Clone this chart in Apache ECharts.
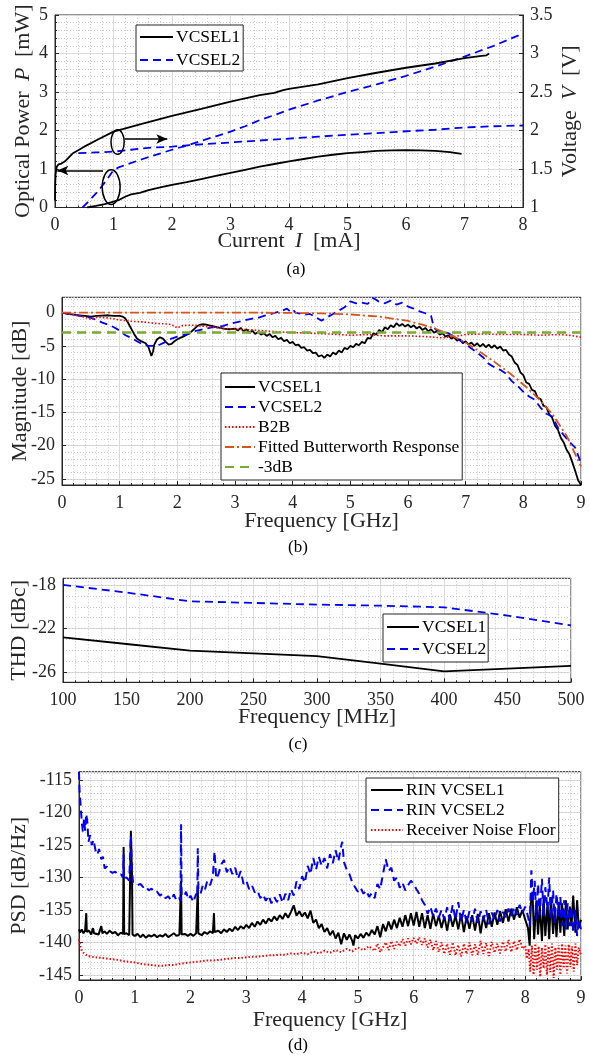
<!DOCTYPE html>
<html><head><meta charset="utf-8">
<script src="https://cdn.jsdelivr.net/npm/echarts@6/dist/echarts.min.js"></script>
<style>html,body{margin:0;padding:0;background:#fff}#c{width:589px;height:1059px}</style>
</head><body><div id="c"></div>
<script>
// ---------- Panel (a): L-I-V ----------
const vcsel1Power = [[0.55,0],[0.7,0.04],[0.85,0.09],[1.0,0.15],[1.1,0.2],[1.2,0.28],[1.3,0.34],[1.45,0.38],[1.6,0.45],[1.8,0.52],[2.0,0.59],[2.25,0.66],[2.5,0.74],[2.75,0.82],[3.0,0.9],[3.25,0.98],[3.5,1.06],[3.75,1.13],[4.0,1.2],[4.25,1.26],[4.5,1.32],[4.75,1.37],[5.0,1.41],[5.25,1.44],[5.5,1.47],[5.75,1.485],[6.0,1.49],[6.25,1.485],[6.5,1.47],[6.75,1.44],[6.95,1.39]];
const vcsel2Power = [[0.47,0],[0.6,0.2],[0.75,0.45],[0.9,0.75],[1.0,0.97],[1.1,1.05],[1.25,1.13],[1.5,1.26],[1.75,1.38],[2.0,1.5],[2.25,1.61],[2.5,1.73],[2.75,1.85],[3.0,1.97],[3.25,2.11],[3.5,2.27],[3.75,2.4],[4.0,2.54],[4.5,2.78],[5.0,3.0],[5.5,3.2],[6.0,3.42],[6.5,3.66],[7.0,3.92],[7.5,4.2],[8.0,4.52]];
const vcsel1Voltage = [[0,1.09],[0.003,1.28],[0.01,1.43],[0.03,1.53],[0.06,1.56],[0.11,1.57],[0.17,1.6],[0.3,1.7],[0.5,1.79],[0.75,1.89],[1.0,1.985],[1.5,2.09],[2.0,2.19],[2.5,2.28],[3.0,2.375],[3.5,2.46],[3.75,2.49],[3.9,2.525],[4.0,2.54],[4.5,2.6],[5.0,2.68],[5.5,2.75],[6.0,2.815],[6.5,2.87],[7.0,2.94],[7.26,2.965],[7.37,2.975],[7.42,3.0]];
const vcsel2Voltage = [[0.4,1.705],[0.7,1.715],[1.0,1.725],[1.3,1.75],[1.6,1.775],[2.0,1.79],[2.3,1.81],[2.5,1.82],[3.0,1.845],[3.5,1.87],[4.0,1.895],[4.5,1.92],[5.0,1.945],[5.5,1.965],[6.0,1.99],[6.5,2.01],[7.0,2.04],[7.5,2.055],[8.0,2.065]];
// annotation ellipses: [centre I, centre P, half-width (mA), half-height (mW)]
const annoEllipses = [[1.07,1.70,0.113,0.32],[0.96,0.53,0.153,0.45]];
const annoArrows = [[[1.19,1.78],[1.92,1.78]],[[0.82,0.96],[0.04,0.96]]];

// ---------- Panel (b): small-signal response ----------
const magV1 = [[0,0],[0.1,-0.2],[0.2,-0.3],[0.3,-0.4],[0.4,-0.5],[0.5,-0.6],[0.6,-0.5],[0.7,-0.45],[0.8,-0.4],[0.9,-0.5],[1.0,-0.5],[1.05,-0.6],[1.1,-0.9],[1.15,-1.6],[1.2,-2.4],[1.25,-3.2],[1.3,-3.9],[1.35,-4.2],[1.4,-4.4],[1.45,-4.6],[1.5,-5.2],[1.53,-6.0],[1.55,-6.5],[1.58,-5.8],[1.6,-4.8],[1.65,-4.0],[1.7,-3.7],[1.75,-3.9],[1.8,-4.4],[1.85,-4.8],[1.9,-4.7],[1.95,-4.3],[2.0,-4.0],[2.05,-3.8],[2.1,-3.6],[2.15,-3.4],[2.2,-3.1],[2.25,-2.8],[2.3,-2.4],[2.35,-2.0],[2.4,-1.8],[2.45,-1.75],[2.5,-1.8],[2.55,-1.9],[2.6,-2.0],[2.7,-2.2],[2.8,-2.4],[2.9,-2.5],[3.0,-2.4],[3.05,-2.7],[3.1,-2.3],[3.15,-2.8],[3.2,-2.5],[3.25,-3.0],[3.3,-2.7],[3.35,-3.2],[3.4,-2.9],[3.45,-3.3],[3.5,-3.1],[3.55,-3.5],[3.6,-3.2],[3.65,-3.7],[3.7,-3.5],[3.75,-4.0],[3.8,-3.8],[3.85,-4.3],[3.9,-4.1],[3.95,-4.6],[4.0,-4.4],[4.05,-4.9],[4.1,-4.8],[4.15,-5.3],[4.2,-5.2],[4.25,-5.7],[4.3,-5.6],[4.35,-6.1],[4.4,-6.0],[4.45,-6.6],[4.5,-6.4],[4.55,-6.8],[4.6,-6.3],[4.65,-6.6],[4.7,-6.0],[4.75,-6.3],[4.8,-5.7],[4.85,-6.0],[4.9,-5.3],[4.95,-5.5],[5.0,-5.0],[5.05,-5.2],[5.1,-4.7],[5.15,-4.9],[5.2,-4.4],[5.25,-4.6],[5.3,-3.8],[5.35,-3.9],[5.4,-3.1],[5.45,-3.3],[5.5,-2.6],[5.55,-2.9],[5.6,-2.2],[5.65,-2.5],[5.7,-1.9],[5.75,-2.2],[5.8,-1.6],[5.85,-2.0],[5.9,-1.7],[5.95,-2.1],[6.0,-1.8],[6.05,-2.2],[6.1,-1.9],[6.15,-2.4],[6.2,-2.1],[6.25,-2.6],[6.3,-2.3],[6.35,-2.8],[6.4,-2.5],[6.45,-3.0],[6.5,-2.8],[6.55,-3.3],[6.6,-3.1],[6.65,-3.6],[6.7,-3.4],[6.75,-3.9],[6.8,-3.7],[6.85,-4.2],[6.9,-4.0],[6.95,-4.6],[7.0,-4.3],[7.05,-4.8],[7.1,-4.5],[7.15,-5.0],[7.2,-4.6],[7.25,-5.1],[7.3,-4.7],[7.35,-5.2],[7.4,-4.8],[7.45,-5.3],[7.5,-4.9],[7.55,-5.4],[7.6,-5.1],[7.65,-5.7],[7.7,-5.6],[7.75,-6.3],[7.8,-6.6],[7.85,-7.5],[7.9,-7.9],[7.95,-9.0],[8.0,-9.4],[8.05,-10.5],[8.1,-10.7],[8.15,-11.6],[8.2,-11.8],[8.25,-12.8],[8.3,-13.0],[8.35,-14.0],[8.4,-14.2],[8.45,-15.3],[8.5,-15.8],[8.55,-17.0],[8.6,-17.6],[8.65,-18.8],[8.7,-19.5],[8.75,-20.6],[8.8,-21.3],[8.85,-22.5],[8.9,-23.8],[8.95,-25.2],[8.98,-25.6],[9.0,-25.9]];
const magV2 = [[0,0],[0.1,-0.2],[0.2,-0.3],[0.3,-0.5],[0.4,-0.6],[0.5,-0.8],[0.6,-1.1],[0.7,-1.5],[0.8,-1.8],[0.9,-2.2],[1.0,-2.7],[1.1,-3.4],[1.2,-3.8],[1.3,-4.3],[1.4,-4.8],[1.5,-5.0],[1.6,-5.0],[1.7,-4.8],[1.8,-4.4],[1.9,-3.9],[2.0,-3.6],[2.1,-3.4],[2.2,-3.2],[2.3,-2.8],[2.4,-2.6],[2.5,-2.4],[2.6,-2.2],[2.7,-2.1],[2.8,-2.0],[2.9,-1.7],[3.0,-1.5],[3.1,-1.3],[3.2,-1.1],[3.3,-0.9],[3.4,-0.8],[3.5,-0.5],[3.6,-0.3],[3.7,0.0],[3.8,0.2],[3.9,0.6],[3.95,0.2],[4.0,0.5],[4.05,0.0],[4.1,-0.1],[4.2,-0.3],[4.3,-0.2],[4.4,-0.7],[4.5,-1.2],[4.6,-0.7],[4.7,-0.2],[4.8,0.3],[4.9,0.8],[5.0,1.7],[5.1,1.4],[5.2,1.5],[5.3,1.3],[5.4,2.2],[5.5,1.6],[5.6,1.4],[5.7,1.8],[5.8,1.2],[5.9,1.5],[6.0,0.9],[6.1,0.6],[6.2,0.2],[6.3,-0.1],[6.4,-0.5],[6.45,-2.2],[6.5,-2.7],[6.6,-2.9],[6.7,-3.1],[6.8,-3.6],[6.9,-4.2],[7.0,-4.7],[7.1,-5.4],[7.2,-6.0],[7.3,-6.7],[7.4,-7.7],[7.5,-8.2],[7.6,-8.6],[7.7,-9.2],[7.8,-10.3],[7.9,-11.0],[8.0,-11.9],[8.1,-12.6],[8.2,-13.1],[8.3,-14.3],[8.4,-15.2],[8.5,-15.6],[8.6,-17.3],[8.7,-18.4],[8.8,-19.4],[8.9,-20.3],[9.0,-22.6]];
const magB2B = [[0,0],[0.2,-0.3],[0.4,-0.7],[0.5,-1.0],[0.6,-0.7],[0.8,-0.8],[1.0,-1.1],[1.2,-1.3],[1.4,-1.4],[1.6,-1.6],[1.8,-1.7],[1.9,-1.8],[2.0,-2.3],[2.1,-1.9],[2.3,-1.9],[2.5,-2.1],[2.7,-2.3],[3.0,-2.5],[3.3,-2.6],[3.6,-2.8],[4.0,-3.0],[4.3,-3.1],[4.6,-3.2],[5.0,-3.4],[5.3,-3.3],[5.6,-3.5],[6.0,-3.5],[6.3,-3.6],[6.6,-3.8],[6.8,-3.6],[7.0,-3.3],[7.3,-3.2],[7.6,-3.3],[8.0,-3.3],[8.3,-3.4],[8.6,-3.3],[8.8,-3.4],[9.0,-3.7]];
const magFit = [[0,0],[0.5,0],[1,0],[1.5,0],[2,0],[2.5,0],[3,0],[3.5,-0.02],[4,-0.05],[4.5,-0.12],[5,-0.28],[5.5,-0.6],[6,-1.25],[6.25,-1.8],[6.5,-2.5],[6.75,-3.4],[7,-4.5],[7.25,-5.9],[7.5,-7.4],[7.75,-9.0],[8,-10.8],[8.25,-12.8],[8.5,-15.2],[8.75,-18.5],[9,-23.1]];
const mag3dB = [[0,-3],[9,-3]];

// ---------- Panel (c): THD ----------
const freqC = [100,150,200,250,300,350,400,450,500];
const thdV1 = [-22.8,-23.4,-24.0,-24.25,-24.5,-25.2,-25.9,-25.65,-25.4];
const thdV2 = [-18.0,-18.7,-19.5,-19.65,-19.8,-19.9,-20.05,-20.8,-21.7];

// ---------- Panel (d): RIN ----------
const rinV1 = [[0,-138],[0.02,-138.5],[0.05,-138],[0.08,-138.6],[0.11,-138.2],[0.13,-135.5],[0.14,-138.4],[0.18,-138.2],[0.22,-138.8],[0.25,-137.8],[0.27,-138.6],[0.3,-138.3],[0.35,-138.8],[0.4,-137.5],[0.42,-138.6],[0.46,-138.3],[0.5,-138.7],[0.55,-138.2],[0.6,-138.6],[0.65,-138.4],[0.7,-138.9],[0.75,-138.5],[0.79,-138.7],[0.8,-125.3],[0.81,-138.7],[0.85,-138.6],[0.9,-138.9],[0.93,-122.8],[0.95,-129.5],[0.96,-138.8],[1.0,-139.0],[1.05,-138.7],[1.1,-139.2],[1.15,-138.8],[1.2,-139.3],[1.25,-138.9],[1.3,-139.1],[1.35,-138.8],[1.4,-139.2],[1.45,-138.9],[1.5,-139.1],[1.55,-138.7],[1.6,-139.2],[1.65,-138.9],[1.7,-138.6],[1.75,-139.0],[1.8,-138.8],[1.82,-138.9],[1.83,-130.5],[1.84,-138.8],[1.9,-138.7],[1.95,-139.0],[2.0,-138.7],[2.05,-139.0],[2.1,-138.6],[2.12,-138.8],[2.13,-131.5],[2.14,-138.6],[2.2,-138.9],[2.25,-138.4],[2.3,-138.7],[2.35,-138.3],[2.4,-138.6],[2.42,-135.5],[2.43,-138.4],[2.5,-138.2],[2.55,-138.6],[2.6,-138.0],[2.65,-138.4],[2.7,-137.9],[2.75,-138.3],[2.8,-137.6],[2.85,-138.1],[2.9,-137.5],[2.95,-137.9],[3.0,-137.3],[3.05,-137.8],[3.1,-137.0],[3.15,-137.6],[3.2,-136.8],[3.25,-137.3],[3.3,-136.5],[3.35,-137.1],[3.4,-136.3],[3.45,-136.8],[3.5,-136.0],[3.55,-136.6],[3.6,-135.8],[3.65,-136.4],[3.7,-135.5],[3.75,-136.2],[3.8,-135.3],[3.85,-134.3],[3.9,-135.9],[3.95,-135.2],[4.0,-136.0],[4.05,-135.4],[4.1,-136.3],[4.15,-135.1],[4.2,-137.0],[4.25,-136.5],[4.3,-137.8],[4.35,-137.2],[4.4,-138.4],[4.45,-137.8],[4.5,-138.9],[4.55,-138.2],[4.6,-139.4],[4.65,-138.5],[4.7,-140.3],[4.75,-138.6],[4.8,-139.6],[4.85,-138.8],[4.9,-139.8],[4.92,-140.5],[4.95,-138.9],[5.0,-139.4],[5.05,-138.7],[5.1,-139.3],[5.15,-138.5],[5.2,-139.0],[5.25,-138.1],[5.3,-138.8],[5.35,-137.5],[5.4,-139.2],[5.45,-137.2],[5.5,-138.3],[5.55,-136.8],[5.6,-138.0],[5.65,-136.5],[5.7,-137.8],[5.75,-136.2],[5.8,-137.6],[5.85,-135.8],[5.9,-137.5],[5.95,-135.5],[6.0,-137.4],[6.05,-135.3],[6.1,-137.6],[6.15,-135.5],[6.2,-137.8],[6.25,-135.8],[6.3,-137.9],[6.35,-135.6],[6.4,-137.5],[6.45,-135.9],[6.5,-137.8],[6.55,-136.0],[6.6,-138.2],[6.65,-135.7],[6.7,-137.6],[6.75,-135.9],[6.8,-138.0],[6.85,-135.6],[6.9,-138.4],[6.95,-136.0],[7.0,-137.9],[7.05,-135.8],[7.1,-138.2],[7.15,-135.6],[7.2,-138.6],[7.25,-135.9],[7.3,-137.8],[7.35,-135.5],[7.4,-137.6],[7.45,-135.4],[7.5,-137.3],[7.55,-135.2],[7.6,-137.0],[7.65,-134.9],[7.7,-136.8],[7.75,-134.8],[7.8,-136.5],[7.85,-134.6],[7.9,-136.2],[7.95,-135.0],[8.0,-136.5],[8.05,-137.8],[8.08,-140.5],[8.1,-134.0],[8.13,-132.2],[8.16,-139.5],[8.2,-133.5],[8.23,-138.8],[8.26,-134.2],[8.3,-139.8],[8.33,-133.2],[8.36,-139.0],[8.4,-134.0],[8.43,-139.5],[8.46,-133.0],[8.5,-138.7],[8.53,-134.5],[8.56,-139.2],[8.6,-133.8],[8.63,-138.5],[8.66,-134.0],[8.7,-139.0],[8.73,-133.5],[8.76,-138.0],[8.8,-134.5],[8.83,-137.5],[8.86,-132.8],[8.9,-138.5],[8.93,-133.5],[8.96,-137.8],[9.0,-136.5]];
const rinV2 = [[0,-113.7],[0.01,-116.5],[0.03,-119.0],[0.05,-121.5],[0.07,-123.0],[0.09,-121.0],[0.11,-122.8],[0.13,-120.2],[0.15,-121.5],[0.17,-124.5],[0.2,-123.5],[0.23,-125.0],[0.26,-124.2],[0.3,-126.0],[0.33,-126.5],[0.36,-125.6],[0.4,-127.2],[0.43,-126.8],[0.46,-128.6],[0.5,-128.3],[0.55,-129.0],[0.6,-129.3],[0.65,-129.1],[0.7,-129.6],[0.75,-129.5],[0.79,-130.0],[0.8,-126.5],[0.81,-130.2],[0.85,-130.0],[0.9,-130.5],[0.93,-123.5],[0.95,-129.0],[0.97,-130.8],[1.0,-130.6],[1.05,-131.2],[1.1,-131.0],[1.15,-131.5],[1.2,-131.3],[1.25,-132.0],[1.3,-131.7],[1.35,-132.3],[1.4,-132.2],[1.45,-132.8],[1.5,-132.5],[1.55,-133.2],[1.6,-132.9],[1.65,-133.5],[1.7,-132.6],[1.75,-133.6],[1.8,-133.2],[1.82,-133.6],[1.83,-121.8],[1.84,-132.6],[1.88,-133.0],[1.92,-132.2],[1.96,-133.4],[2.0,-132.8],[2.05,-133.8],[2.1,-132.5],[2.12,-133.0],[2.13,-125.5],[2.14,-131.8],[2.18,-132.5],[2.22,-131.2],[2.26,-131.8],[2.3,-130.5],[2.35,-131.2],[2.4,-129.8],[2.43,-126.0],[2.46,-130.2],[2.5,-129.5],[2.55,-128.0],[2.6,-127.3],[2.65,-129.2],[2.7,-128.3],[2.75,-129.5],[2.8,-128.5],[2.85,-130.2],[2.9,-129.0],[2.95,-131.0],[3.0,-130.5],[3.05,-131.8],[3.1,-131.2],[3.15,-132.3],[3.2,-132.0],[3.25,-133.2],[3.3,-132.6],[3.35,-133.6],[3.4,-132.8],[3.45,-134.0],[3.5,-133.0],[3.55,-133.8],[3.6,-132.6],[3.65,-133.9],[3.7,-132.5],[3.75,-133.5],[3.8,-131.8],[3.85,-132.8],[3.9,-130.6],[3.95,-131.8],[4.0,-129.8],[4.05,-130.8],[4.1,-128.2],[4.15,-129.5],[4.2,-127.0],[4.25,-128.8],[4.3,-126.8],[4.35,-128.2],[4.4,-127.0],[4.45,-128.6],[4.5,-126.4],[4.55,-127.8],[4.6,-125.8],[4.65,-127.5],[4.7,-125.2],[4.72,-124.5],[4.75,-127.6],[4.8,-128.8],[4.85,-129.5],[4.9,-130.8],[4.95,-131.5],[5.0,-132.2],[5.05,-131.6],[5.1,-132.5],[5.15,-132.0],[5.2,-133.0],[5.25,-132.4],[5.3,-133.2],[5.35,-131.0],[5.4,-131.8],[5.45,-129.5],[5.5,-127.2],[5.55,-129.0],[5.6,-128.5],[5.65,-130.5],[5.7,-130.0],[5.75,-131.6],[5.8,-130.8],[5.85,-132.0],[5.9,-131.2],[5.95,-130.5],[6.0,-131.0],[6.05,-131.8],[6.1,-132.5],[6.15,-133.5],[6.2,-134.2],[6.25,-135.6],[6.3,-134.5],[6.35,-136.0],[6.4,-134.8],[6.45,-136.2],[6.5,-135.0],[6.55,-136.5],[6.6,-134.6],[6.65,-136.6],[6.7,-134.2],[6.75,-136.5],[6.8,-133.8],[6.85,-136.8],[6.9,-135.0],[6.95,-137.0],[7.0,-135.2],[7.05,-136.8],[7.1,-134.8],[7.15,-137.0],[7.2,-135.2],[7.25,-136.6],[7.3,-135.0],[7.35,-137.2],[7.4,-135.4],[7.45,-136.5],[7.5,-135.0],[7.55,-136.8],[7.6,-135.3],[7.65,-136.2],[7.7,-134.8],[7.75,-136.0],[7.8,-134.5],[7.85,-135.8],[7.9,-134.2],[7.95,-135.5],[8.0,-134.5],[8.05,-136.0],[8.08,-137.5],[8.11,-128.9],[8.14,-133.5],[8.17,-130.5],[8.2,-136.5],[8.23,-131.0],[8.26,-135.8],[8.3,-130.2],[8.33,-136.0],[8.36,-131.5],[8.4,-135.0],[8.43,-130.0],[8.46,-136.5],[8.5,-132.0],[8.53,-137.0],[8.56,-132.5],[8.6,-136.0],[8.63,-133.0],[8.66,-137.5],[8.7,-133.5],[8.73,-138.0],[8.76,-134.0],[8.8,-137.5],[8.83,-134.5],[8.86,-138.5],[8.9,-135.0],[8.93,-139.0],[8.96,-136.5],[9.0,-138.0]];
const rinNoise = [[0,-139.5],[0.02,-140.5],[0.05,-141.3],[0.1,-141.8],[0.15,-142.0],[0.2,-142.2],[0.3,-142.3],[0.4,-142.4],[0.5,-142.5],[0.6,-142.6],[0.7,-142.7],[0.8,-142.9],[0.9,-143.0],[1.0,-143.1],[1.1,-143.3],[1.2,-143.4],[1.3,-143.5],[1.4,-143.6],[1.5,-143.6],[1.6,-143.5],[1.7,-143.5],[1.8,-143.3],[1.9,-143.2],[2.0,-143.1],[2.1,-143.0],[2.2,-142.9],[2.3,-142.8],[2.4,-142.8],[2.5,-142.7],[2.6,-142.6],[2.7,-142.5],[2.8,-142.4],[2.9,-142.4],[3.0,-142.3],[3.1,-142.2],[3.2,-142.2],[3.3,-142.1],[3.4,-142.0],[3.5,-142.0],[3.6,-141.9],[3.7,-141.9],[3.8,-141.7],[3.9,-141.8],[4.0,-141.6],[4.1,-141.8],[4.2,-141.4],[4.3,-141.7],[4.4,-141.3],[4.5,-141.6],[4.6,-141.2],[4.7,-141.5],[4.8,-141.0],[4.9,-141.4],[5.0,-140.8],[5.1,-141.2],[5.2,-140.6],[5.3,-141.3],[5.35,-140.2],[5.4,-141.5],[5.5,-140.0],[5.55,-141.2],[5.6,-139.8],[5.65,-141.0],[5.7,-139.9],[5.75,-140.6],[5.8,-139.5],[5.85,-140.5],[5.9,-139.4],[5.95,-140.3],[6.0,-139.3],[6.05,-140.2],[6.1,-139.2],[6.15,-140.4],[6.2,-139.4],[6.25,-140.8],[6.3,-139.6],[6.35,-141.2],[6.4,-139.8],[6.45,-141.5],[6.5,-140.0],[6.55,-141.8],[6.6,-140.2],[6.65,-141.9],[6.7,-140.0],[6.75,-142.0],[6.8,-140.4],[6.85,-142.2],[6.9,-140.2],[6.95,-141.8],[7.0,-140.0],[7.05,-142.0],[7.1,-140.3],[7.15,-141.9],[7.2,-139.8],[7.25,-141.8],[7.3,-140.1],[7.35,-142.1],[7.4,-139.9],[7.45,-141.6],[7.5,-140.2],[7.55,-141.7],[7.6,-139.9],[7.65,-141.4],[7.7,-139.6],[7.75,-141.5],[7.8,-139.8],[7.85,-141.2],[7.9,-139.5],[7.95,-141.0],[8.0,-140.5],[8.03,-142.5],[8.06,-141.0],[8.09,-144.5],[8.12,-140.5],[8.15,-145.0],[8.18,-140.2],[8.21,-144.2],[8.24,-140.6],[8.27,-145.3],[8.3,-140.8],[8.33,-144.0],[8.36,-140.3],[8.39,-145.0],[8.42,-140.6],[8.45,-144.6],[8.48,-140.2],[8.51,-145.5],[8.54,-140.8],[8.57,-144.2],[8.6,-140.4],[8.63,-145.0],[8.66,-140.2],[8.69,-144.0],[8.72,-140.5],[8.75,-144.8],[8.78,-140.3],[8.81,-143.8],[8.84,-140.6],[8.87,-144.5],[8.9,-140.2],[8.93,-143.5],[8.96,-140.8],[9.0,-142.0]];

// tick labels
const ticksB = [-25,-20,-15,-10,-5,0];
const ticksC = [-26,-22,-18];
const ticksD = [-145,-140,-135,-130,-125,-120,-115];

// ---------- styling ----------
const FONT = 'Liberation Serif';
const TXT = '#262626';
const MAJ = '#dcdcdc';
const MIN = '#c8c8c8';
const BLUE = '#0000ff', RED = '#ff0000', ORANGE = '#d95319', GREEN = '#77ac30';
const TICK_FS = 18, NAME_FS = 22;

function labelStyle(extra) {
  return Object.assign({color: TXT, fontSize: TICK_FS, fontFamily: FONT, margin: 7}, extra || {});
}
function baseAxis(extra) {
  return Object.assign({
    type: 'value',
    axisLine: {show: true, onZero: false, lineStyle: {color: TXT, width: 1}},
    axisTick: {show: true, inside: true, length: 4, lineStyle: {color: TXT}},
    axisLabel: labelStyle(),
    splitLine: {show: true, lineStyle: {color: MAJ, width: 1}},
    nameLocation: 'middle',
    nameMoveOverlap: false,
    nameTextStyle: {color: TXT, fontSize: NAME_FS, fontFamily: FONT,
      rich: {i: {fontStyle: 'italic', fontSize: NAME_FS, fontFamily: FONT, color: TXT, padding: [0, 5, 0, 5]}}}
  }, extra);
}
function minorOverlay(gridIndex, min, max, step) {
  return {type: 'value', gridIndex, min, max, minInterval: step, maxInterval: step,
    axisLine: {show: false}, axisTick: {show: false}, axisLabel: {show: false},
    splitLine: {show: true, lineStyle: {color: MIN, width: 1, type: [1, 2]}}};
}
const minorX = {minorTick: {show: true, splitNumber: 5, length: 2, lineStyle: {color: TXT}},
  minorSplitLine: {show: true, lineStyle: {color: MIN, width: 1, type: [1, 2]}}};
const xLab = labelStyle({margin: 9});

const grids = [
  {left: 55, top: 15, width: 472, height: 192.5},
  {left: 62, top: 297.3, width: 519, height: 187.7},
  {left: 63, top: 578.3, width: 508, height: 104},
  {left: 75, top: 771.7, width: 506, height: 208.3}
].map(g => Object.assign({show: true, borderColor: TXT, borderWidth: 1, backgroundColor: '#fff', containLabel: false}, g));

const xAxes = [
  baseAxis(Object.assign({gridIndex: 0, min: 0, max: 8, interval: 1, name: 'Current {i|I} [mA]', nameGap: 23, axisLabel: xLab}, minorX)),
  baseAxis(Object.assign({gridIndex: 1, min: 0, max: 9, interval: 1, name: 'Frequency [GHz]', nameGap: 25, axisLabel: xLab}, minorX)),
  baseAxis(Object.assign({gridIndex: 2, min: 100, max: 500, interval: 50, name: 'Frequency [MHz]', nameGap: 24, axisLabel: xLab}, minorX)),
  baseAxis(Object.assign({gridIndex: 3, min: 0, max: 9, interval: 1, name: 'Frequency [GHz]', nameGap: 29, axisLabel: xLab}, minorX))
];
const yAxes = [
  baseAxis(Object.assign({gridIndex: 0, min: 0, max: 5, interval: 1, name: 'Optical Power {i|P} [mW]', nameGap: 21, position: 'left'}, minorX)),
  baseAxis({gridIndex: 0, min: 1, max: 3.5, interval: 0.5, position: 'right', name: 'Voltage {i|V} [V]', nameGap: 36, nameRotate: 90, splitLine: {show: false},
    axisLabel: labelStyle({formatter: v => String(v)})}),
  baseAxis({gridIndex: 1, min: -25.9, max: 2.3, name: 'Magnitude [dB]', nameGap: 31, position: 'left',
    axisTick: {show: true, inside: true, length: 4, lineStyle: {color: TXT}, customValues: ticksB},
    axisLabel: labelStyle({customValues: ticksB})}),
  minorOverlay(1, -25.9, 2.3, 1),
  baseAxis({gridIndex: 2, min: -26.9, max: -17.4, name: 'THD [dBc]', nameGap: 33, position: 'left',
    axisTick: {show: true, inside: true, length: 4, lineStyle: {color: TXT}, customValues: ticksC},
    axisLabel: labelStyle({customValues: ticksC})}),
  minorOverlay(2, -26.9, -17.4, 1),
  baseAxis({gridIndex: 3, min: -145.8, max: -113.7, name: 'PSD [dB/Hz]', nameGap: 49, position: 'left',
    axisTick: {show: true, inside: true, length: 4, lineStyle: {color: TXT}, customValues: ticksD},
    axisLabel: labelStyle({customValues: ticksD})}),
  minorOverlay(3, -145.8, -113.7, 1)
];

function line(name, data, xi, yi, color, type, width, extra) {
  return Object.assign({type: 'line', name, data, xAxisIndex: xi, yAxisIndex: yi,
    showSymbol: false, symbol: 'none', smooth: false, silent: true, clip: true,
    lineStyle: {color, type, width}, itemStyle: {color}, z: 3}, extra || {});
}
const solid = 'solid', dashed = [8, 5], dotted = [1.5, 2], dashdot = [9, 3, 2, 3];

const series = [
  line('VCSEL1', vcsel1Power, 0, 0, '#000', solid, 1.8),
  line('VCSEL2', vcsel2Power, 0, 0, BLUE, dashed, 1.8),
  line('VCSEL1', vcsel1Voltage, 0, 1, '#000', solid, 1.8),
  line('VCSEL2', vcsel2Voltage, 0, 1, BLUE, dashed, 1.8),
  {type: 'custom', xAxisIndex: 0, yAxisIndex: 0, data: annoEllipses, silent: true, z: 4,
    renderItem: (params, api) => {
      const c = api.coord([api.value(0), api.value(1)]);
      const s = api.size([api.value(2), api.value(3)]);
      return {type: 'ellipse', shape: {cx: c[0], cy: c[1], rx: s[0], ry: s[1]},
        style: {fill: null, stroke: '#000', lineWidth: 1.5}};
    }},
  {type: 'line', xAxisIndex: 0, yAxisIndex: 0, data: [], silent: true, z: 4,
    markLine: {silent: true, symbol: ['none', 'arrow'], symbolSize: [7, 11], animation: false,
      label: {show: false}, lineStyle: {color: '#000', width: 1.5, type: 'solid'},
      data: annoArrows.map(a => [{coord: a[0]}, {coord: a[1]}])}},

  line('VCSEL1', magV1, 1, 2, '#000', solid, 1.8),
  line('VCSEL2', magV2, 1, 2, BLUE, dashed, 1.8),
  line('B2B', magB2B, 1, 2, RED, dotted, 1.6),
  line('Fitted Butterworth Response', magFit, 1, 2, ORANGE, dashdot, 1.8),
  line('-3dB', mag3dB, 1, 2, GREEN, [9, 6], 2.5),

  line('VCSEL1', freqC.map((f, i) => [f, thdV1[i]]), 2, 4, '#000', solid, 1.8),
  line('VCSEL2', freqC.map((f, i) => [f, thdV2[i]]), 2, 4, BLUE, dashed, 1.8),

  line('RIN VCSEL1', rinV1, 3, 6, '#000', solid, 2),
  line('RIN VCSEL2', rinV2, 3, 6, BLUE, dashed, 2),
  line('Receiver Noise Floor', rinNoise, 3, 6, RED, dotted, 2)
];

function legend(data, left, top, gap, pad, iw) {
  return {data, left, top, orient: 'vertical', itemWidth: iw, itemHeight: 12, itemGap: gap,
    padding: pad, borderColor: TXT, borderWidth: 1, backgroundColor: '#fff', selectedMode: false, z: 10,
    itemStyle: {color: 'rgba(0,0,0,0)', borderColor: 'rgba(0,0,0,0)', borderWidth: 0, opacity: 0},
    textStyle: {fontSize: 17.5, fontFamily: FONT, color: '#000', lineHeight: 20, padding: [0, 0, 0, -2]}};
}
const legends = [
  legend(['VCSEL1', 'VCSEL2'], 136, 25, 3, [2, 3, 1, 3], 33),
  legend(['VCSEL1', 'VCSEL2', 'B2B', 'Fitted Butterworth Response', '-3dB'], 221, 373, 0, [4, 3, 3, 3], 30),
  legend(['VCSEL1', 'VCSEL2'], 383, 614, 2, [3, 2, 3, 3], 32),
  legend(['RIN VCSEL1', 'RIN VCSEL2', 'Receiver Noise Floor'], 366, 778, 0, [2, 3, 2, 4], 32)
];

const labels = [['(a)', 296, 270], ['(b)', 298, 548], ['(c)', 298, 745], ['(d)', 298, 1046]];

const chart = echarts.init(document.getElementById('c'), null, {renderer: 'canvas'});
chart.setOption({
  animation: false,
  backgroundColor: '#fff',
  textStyle: {fontFamily: FONT},
  grid: grids,
  xAxis: xAxes,
  yAxis: yAxes,
  legend: legends,
  series,
  graphic: labels.map(l => ({type: 'text', x: l[1], y: l[2],
    style: {text: l[0], font: '17px "Liberation Serif"', fill: '#000', align: 'center', verticalAlign: 'middle'}}))
});
</script></body></html>
